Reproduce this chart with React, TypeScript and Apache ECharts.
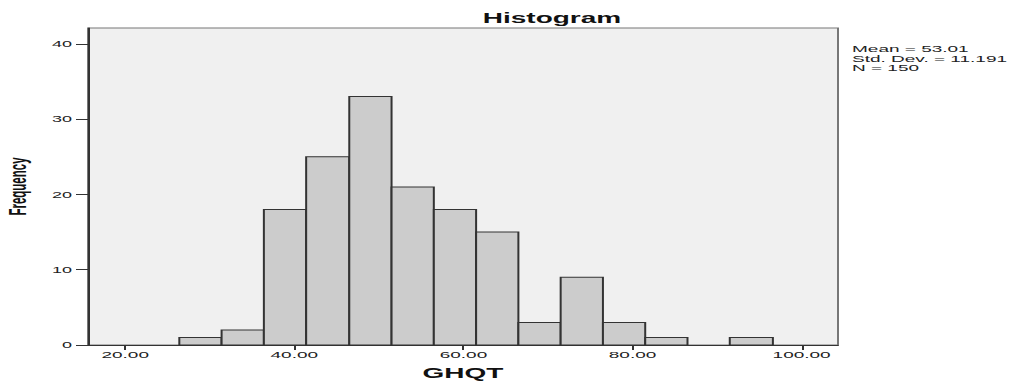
import React, { useEffect, useRef } from "react";
import * as echarts from "echarts";

// Histogram data (GHQT)
const binLower = [26.4, 31.4, 36.4, 41.4, 46.5, 51.5, 56.5, 61.5, 66.5, 71.5, 76.5, 81.5, 86.5, 91.5];
const binUpper = [31.4, 36.4, 41.4, 46.5, 51.5, 56.5, 61.5, 66.5, 71.5, 76.5, 81.5, 86.5, 91.5, 96.6];
const frequencies = [1, 2, 18, 25, 33, 21, 18, 15, 3, 9, 3, 1, 0, 1];
const xTicks = [20, 40, 60, 80, 100];
const yTicks = [0, 10, 20, 30, 40];
const statsLines = ["Mean = 53.01", "Std. Dev. = 11.191", "N = 150"];

const FONT = "'Liberation Sans', Arial, sans-serif";

export default function App() {
  const ref = useRef<HTMLDivElement>(null);

  useEffect(() => {
    if (!ref.current) return;
    const chart = echarts.init(ref.current, null, { renderer: "svg" });
    const data = binLower.map((lo, i) => [lo, binUpper[i], frequencies[i]]);
    chart.setOption({
      animation: false,
      backgroundColor: "#ffffff",
      title: {
        text: "Histogram",
        left: 276,
        top: 11,
        padding: 0,
        textAlign: "center",
        textStyle: { fontFamily: FONT, fontSize: 14, fontWeight: "bold", color: "#111" },
      },
      grid: {
        left: 44,
        right: 87,
        top: 28,
        bottom: 38,
        outerBoundsMode: "none",
        containLabel: false,
        show: true,
        backgroundColor: "#f0f0f0",
        borderColor: "#777",
        borderWidth: 1,
      },
      xAxis: {
        type: "value",
        min: 15.6,
        max: 104.3,
        name: "GHQT",
        nameLocation: "middle",
        nameGap: 21,
        nameTextStyle: { fontFamily: FONT, fontSize: 14, fontWeight: "bold", color: "#111" },
        axisLine: { show: true, lineStyle: { color: "#333", width: 1 } },
        axisTick: { show: true, length: 5, customValues: xTicks, lineStyle: { color: "#333" } },
        axisLabel: {
          customValues: xTicks,
          margin: 5,
          fontFamily: FONT,
          fontSize: 9.5,
          color: "#222",
          formatter: (v: number) => v.toFixed(2),
        },
        splitLine: { show: false },
      },
      yAxis: {
        type: "value",
        min: 0,
        max: 42.1,
        name: "Frequency",
        nameLocation: "middle",
        nameGap: 27,
        nameTextStyle: { fontFamily: FONT, fontSize: 11.5, fontWeight: "bold", color: "#111" },
        axisLine: { show: true, lineStyle: { color: "#333", width: 1 } },
        axisTick: { show: true, length: 6, customValues: yTicks, lineStyle: { color: "#333" } },
        axisLabel: {
          customValues: yTicks,
          margin: 8,
          fontFamily: FONT,
          fontSize: 9,
          color: "#222",
        },
        splitLine: { show: false },
      },
      graphic: [
        {
          type: "text",
          left: 426,
          top: 44,
          style: {
            text: statsLines.join("\n"),
            fontFamily: FONT,
            fontSize: 9.5,
            lineHeight: 9.5,
            fill: "#222",
          },
        },
      ],
      series: [
        {
          type: "custom",
          data,
          encode: { x: [0, 1], y: 2 },
          renderItem: (params: any, api: any) => {
            const lo = api.value(0);
            const hi = api.value(1);
            const f = api.value(2);
            if (!f) return null;
            const p0 = api.coord([lo, f]);
            const p1 = api.coord([hi, 0]);
            return {
              type: "rect",
              shape: { x: p0[0], y: p0[1], width: p1[0] - p0[0], height: p1[1] - p0[1] },
              style: { fill: "#cccccc", stroke: "#333", lineWidth: 1 },
            };
          },
        },
      ],
    });
    return () => chart.dispose();
  }, []);

  return (
    <div
      ref={ref}
      style={{
        position: "fixed",
        left: 0,
        top: 0,
        width: 506,
        height: 383,
        transform: "scaleX(2)",
        transformOrigin: "0 0",
      }}
    />
  );
}
